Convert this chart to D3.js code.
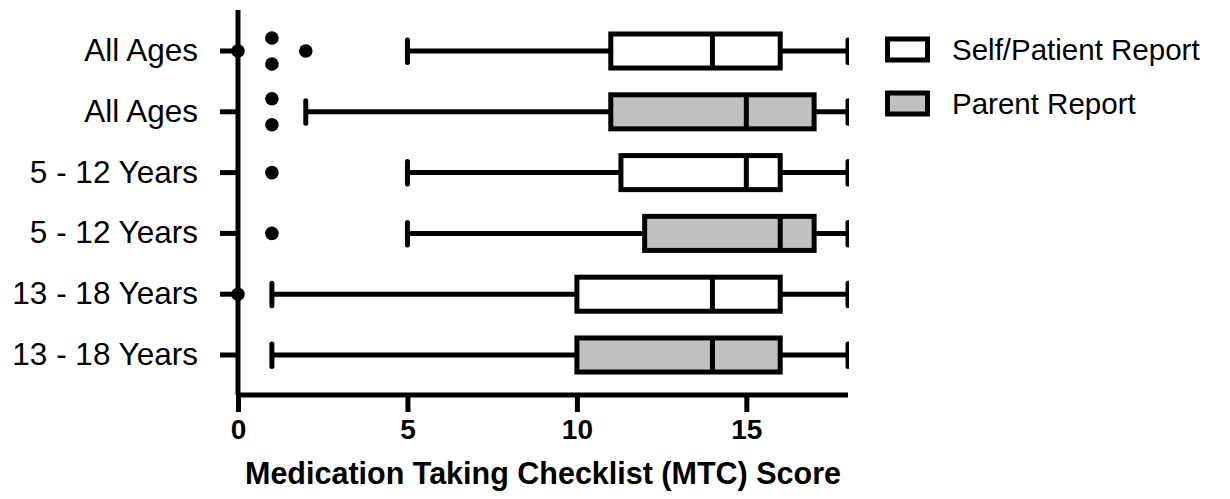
<!DOCTYPE html>
<html>
<head>
<meta charset="utf-8">
<script src="https://cdn.jsdelivr.net/npm/d3@7"></script>
<style>
  body { margin: 0; background: #fff; }
  text { font-family: "Liberation Sans", Arial, Helvetica, sans-serif; }
</style>
</head>
<body>
<div class="box-chart"></div>
<script>
const width = 1230;
const height = 499;
const margin = { top: 10, right: 382, bottom: 104, left: 238 };

/* DATA */
const rowLabels = ["All Ages", "All Ages", "5 - 12 Years", "5 - 12 Years", "13 - 18 Years", "13 - 18 Years"];
const reporter = ["self", "parent", "self", "parent", "self", "parent"];
const whiskerLow = [5, 2, 5, 5, 1, 1];
const q1 = [11, 11, 11.3, 12, 10, 10];
const median = [14, 15, 15, 16, 14, 14];
const q3 = [16, 17, 16, 17, 16, 16];
const whiskerHigh = [18, 18, 18, 18, 18, 18];
const outliers = [[0, 1, 1, 2], [1, 1], [1], [1], [0], []];
const xTicks = [0, 5, 10, 15];
const legendLabels = ["Self/Patient Report", "Parent Report"];
const fills = { self: "#ffffff", parent: "#c0c0c0" };

const rows = rowLabels.map((label, i) => ({
    i, label, who: reporter[i],
    lo: whiskerLow[i], q1: q1[i], med: median[i], q3: q3[i], hi: whiskerHigh[i],
    out: outliers[i]
}));

/* SCALES */
const xScale = d3.scaleLinear()
    .domain([0, 18])
    .range([margin.left, width - margin.right]);

const yScale = d3.scaleBand()
    .domain(d3.range(rows.length))
    .range([20, 386])
    .paddingInner(0.44)
    .paddingOuter(0.23);

const svg = d3.select(".box-chart")
    .append("svg")
    .attr("width", width)
    .attr("height", height);

const sw = 5;

svg.append("clipPath")
    .attr("id", "plot-clip")
    .append("rect")
    .attr("x", 0).attr("y", 0)
    .attr("width", xScale(18) + 1).attr("height", height);

// + AXES
const xAxis = d3.axisBottom(xScale).tickValues(xTicks).tickSize(17).tickPadding(7);
const gx = svg.append("g")
    .attr("transform", `translate(0, ${height - margin.bottom})`)
    .call(xAxis);
gx.select(".domain").attr("d", `M${xScale(0)},0H${xScale(18)}`).attr("stroke-width", sw);
gx.selectAll(".tick line").attr("stroke-width", sw);
gx.selectAll(".tick text")
    .attr("font-size", 28).attr("font-weight", "bold").attr("fill", "#000");

const yAxis = d3.axisLeft(yScale).tickFormat(i => rowLabels[i]).tickSize(18).tickPadding(22);
const gy = svg.append("g")
    .attr("transform", `translate(${margin.left}, 0)`)
    .call(yAxis);
gy.select(".domain").attr("d", `M0,${margin.top}V${height - margin.bottom}`).attr("stroke-width", sw);
gy.selectAll(".tick line").attr("stroke-width", sw);
gy.selectAll(".tick text").attr("font-size", 31.5).attr("fill", "#000");

svg.append("text")
    .attr("x", (xScale(0) + xScale(18)) / 2)
    .attr("y", 484)
    .attr("text-anchor", "middle")
    .attr("font-size", 30.5)
    .attr("font-weight", "bold")
    .text("Medication Taking Checklist (MTC) Score");

/* BOXES */
const bh = yScale.bandwidth();
const plot = svg.append("g").attr("clip-path", "url(#plot-clip)");
const g = plot.selectAll("g.row")
    .data(rows)
    .join("g")
    .attr("class", "row")
    .attr("transform", d => `translate(0, ${yScale(d.i) + bh / 2})`);

// whiskers
g.append("line")
    .attr("x1", d => xScale(d.lo)).attr("x2", d => xScale(d.q1))
    .attr("stroke", "#000").attr("stroke-width", sw);
g.append("line")
    .attr("x1", d => xScale(d.q3)).attr("x2", d => xScale(d.hi))
    .attr("stroke", "#000").attr("stroke-width", sw);
g.selectAll("line.cap")
    .data(d => [d.lo, d.hi])
    .join("line")
    .attr("class", "cap")
    .attr("x1", v => xScale(v)).attr("x2", v => xScale(v))
    .attr("y1", -11).attr("y2", 11.5)
    .attr("stroke", "#000").attr("stroke-width", sw)
    .attr("stroke-linecap", "round");

g.append("rect")
    .attr("x", d => xScale(d.q1))
    .attr("width", d => xScale(d.q3) - xScale(d.q1))
    .attr("y", -bh / 2).attr("height", bh)
    .attr("fill", d => fills[d.who])
    .attr("stroke", "#000").attr("stroke-width", sw);

g.append("line")
    .attr("x1", d => xScale(d.med)).attr("x2", d => xScale(d.med))
    .attr("y1", -bh / 2).attr("y2", bh / 2)
    .attr("stroke", "#000").attr("stroke-width", sw);

// outliers, duplicates spread vertically
g.selectAll("circle")
    .data(d => d.out.map((v, k) => {
        const same = d.out.filter(w => w === v).length;
        const idx = d.out.slice(0, k).filter(w => w === v).length;
        return { v, off: same > 1 ? (idx - (same - 1) / 2) * 26 : 0 };
    }))
    .join("circle")
    .attr("cx", p => xScale(p.v))
    .attr("cy", p => p.off)
    .attr("r", 6.8)
    .attr("fill", "#000");

/* LEGEND */
const legend = svg.selectAll("g.legend")
    .data(legendLabels)
    .join("g")
    .attr("class", "legend")
    .attr("transform", (d, i) => `translate(885, ${49.5 + i * 54})`);
legend.append("rect")
    .attr("x", 2.5).attr("y", -10.5)
    .attr("width", 40).attr("height", 21)
    .attr("fill", (d, i) => i === 0 ? fills.self : fills.parent)
    .attr("stroke", "#000").attr("stroke-width", sw);
legend.append("text")
    .attr("x", 67).attr("dy", "0.35em")
    .attr("font-size", 29.5)
    .text(d => d);
</script>
</body>
</html>
